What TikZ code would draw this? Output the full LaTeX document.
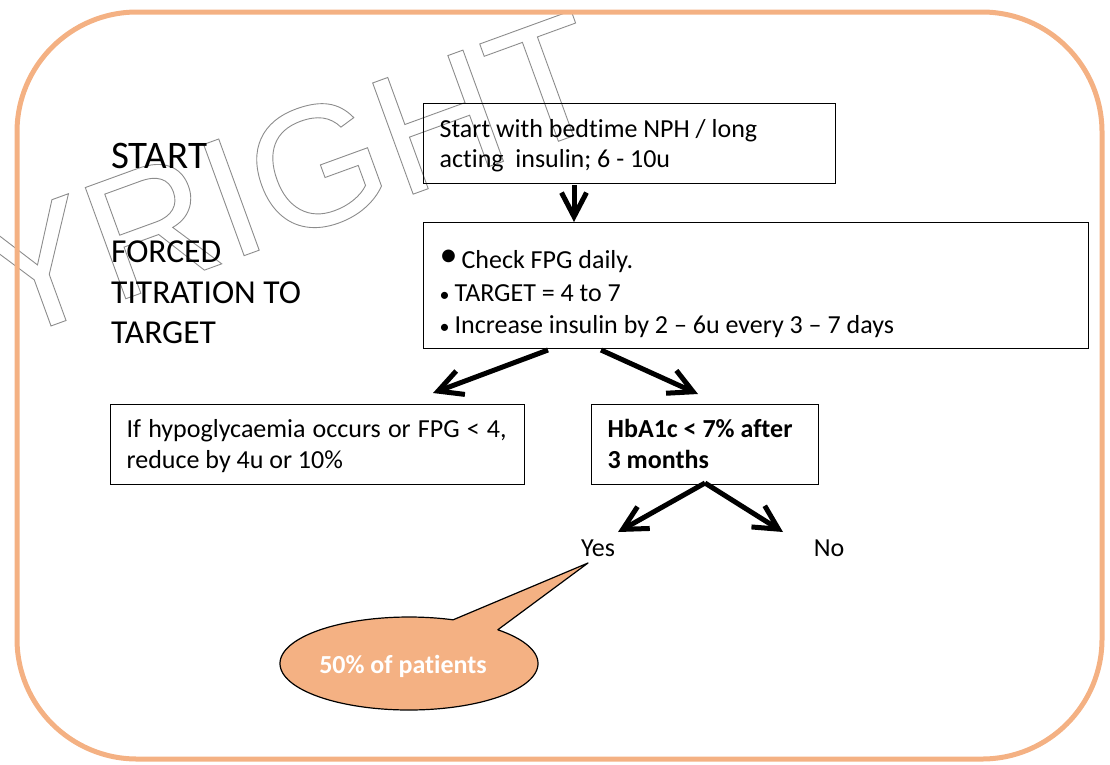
\documentclass[tikz,border=0pt]{standalone}
\usepackage{fontspec}
\setmainfont{Carlito}[Ligatures=NoCommon]
\newfontfamily\wmfont{Liberation Sans}
\usetikzlibrary{arrows.meta}
\definecolor{peach}{HTML}{F4B183}
\definecolor{wmgray}{gray}{0.55}
\newcommand{\bodyfont}{\fontsize{26}{31}\selectfont}
\newcommand{\outlinedtext}[1]{{\color{wmgray}\special{pdf:code q 1 Tr 0.9 w}#1\special{pdf:code Q}}}
\newcommand{\smallbul}{{\fontsize{20}{20}\selectfont•}\hspace{5pt}}
\tikzset{
  box/.style={draw, line width=1.3pt, inner xsep=16pt, inner ysep=0pt, anchor=north west, align=flush left, font=\bodyfont},
  arr/.style={line width=5pt, -{Straight Barb[length=24pt,width=25pt]}},
  side/.style={anchor=base west, inner sep=0pt},
  plain/.style={font=\bodyfont, anchor=base, inner sep=0pt}
}
\begin{document}
\begin{tikzpicture}[x=1pt, y=-1pt]
\useasboundingbox (0,0) rectangle (1110,764);
\clip (0,0) rectangle (1110,764);
% watermark
\node[font=\wmfont\fontsize{172}{172}\selectfont, rotate=20, anchor=base east, inner sep=0pt] (wm) at (615.5,120.5) {\outlinedtext{COPYRIGHT}};
% outer frame
\draw[peach, line width=5pt, rounded corners=120pt] (17,12) rectangle (1102,759);
% side texts
\node[side, font=\fontsize{39}{39}\selectfont] (start) at (111,168) {START};
\node[side, font=\fontsize{33.5}{33.5}\selectfont] (forced) at (111,262) {FORCED};
\node[side, font=\fontsize{33.5}{33.5}\selectfont] (titr) at (111,303) {TITRATION TO};
\node[side, font=\fontsize{33.5}{33.5}\selectfont] (targ) at (111,343) {TARGET};
% boxes
\node[box, minimum width=412pt, minimum height=80pt, text width=380pt, text height=34pt, text depth=46pt,
      font=\fontsize{26}{30}\selectfont] (b1) at (423,103)
  {\mbox{Start with bedtime NPH / long}\\\mbox{acting~ insulin; 6 - 10u}};
\node[box, minimum width=665pt, minimum height=126pt, text width=633pt, text height=46pt, text depth=80pt,
      font=\fontsize{26}{32.5}\selectfont] (b2) at (423,222)
  {\mbox{{\fontsize{36}{36}\selectfont\raisebox{2pt}{•}}\hspace{4pt}Check FPG daily.}\\
   \mbox{\smallbul TARGET = 4 to 7}\\
   \mbox{\smallbul Increase insulin by 2 – 6u every 3 – 7 days}};
\node[box, minimum width=414pt, minimum height=80pt, text width=382pt, text height=33pt, text depth=47pt] (b3) at (110,404)
  {\makebox[380pt][s]{If hypoglycaemia occurs or FPG < 4,}\\\mbox{reduce by 4u or 10\%}};
\node[box, minimum width=227pt, minimum height=80pt, text width=195pt, text height=33pt, text depth=47pt,
      font=\bodyfont\bfseries] (b4) at (591,404)
  {\mbox{HbA1c < 7\% after}\\\mbox{3 months}};
\node[plain] (yes) at (598,556) {Yes};
\node[plain] (no) at (829,556) {No};
% arrows
\coordinate (d0) at (574,185); \coordinate (d1) at (574,222);
\coordinate (l0) at (548,350); \coordinate (l1) at (433,393);
\coordinate (r0) at (601,350); \coordinate (r1) at (698,394);
\coordinate (s0) at (705,483); \coordinate (y1) at (618,532); \coordinate (n1) at (783,532);
\draw[arr] (d0) -- (d1);
\draw[arr] (l0) -- (l1);
\draw[arr] (r0) -- (r1);
\draw[arr] (s0) -- (y1);
\draw[arr] (s0) -- (n1);
% callout
\coordinate (tip) at (588,563);
\filldraw[fill=peach, draw=black, line width=1.2pt, line join=round]
  plot[domain=70:406.5, samples=140] ({409+129*cos(\x)},{663.5-46.5*sin(\x)}) -- (tip) -- cycle;
\node[font=\fontsize{26}{26}\selectfont\bfseries, text=white] (pct) at (403,666) {50\% of patients};
\end{tikzpicture}
\end{document}
